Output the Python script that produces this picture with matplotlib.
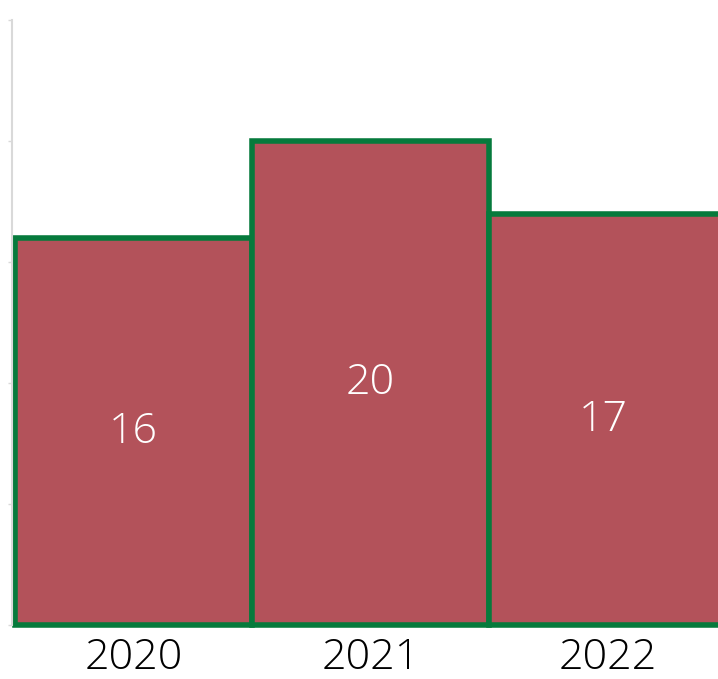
import matplotlib
matplotlib.use("Agg")
import matplotlib.pyplot as plt

years = ["2020", "2021", "2022"]
values = [16, 20, 17]

plt.rcParams['font.family'] = ['Open Sans', 'DejaVu Sans']

fig = plt.figure(figsize=(7.18, 6.79), dpi=100)
ax = fig.add_axes([12 / 718, 54 / 679, 706 / 718, 605 / 679])

bars = ax.bar(range(len(years)), values, width=1.0, color="#b3525a",
              edgecolor="#067a3c", linewidth=4, clip_on=False, zorder=2)
ax.bar_label(bars, labels=[str(v) for v in values], label_type="center",
             color="white", fontsize=31, fontweight=300)

ax.set_xlim(-0.512, 2.465)
ax.set_ylim(0, 25)
ax.set_yticks([0, 5, 10, 15, 20, 25])
ax.set_yticklabels([])
ax.set_xticks(range(len(years)))
ax.set_xticklabels(years, fontsize=31, fontweight=300, color="black")
ax.tick_params(axis="x", length=0, pad=8)
ax.tick_params(axis="y", length=3, width=1, color="#d9d9d9")

for s in ["top", "right", "bottom"]:
    ax.spines[s].set_visible(False)
ax.spines["left"].set_color("#d9d9d9")
ax.spines["left"].set_linewidth(1.5)

fig.savefig("out.png", dpi=100)
